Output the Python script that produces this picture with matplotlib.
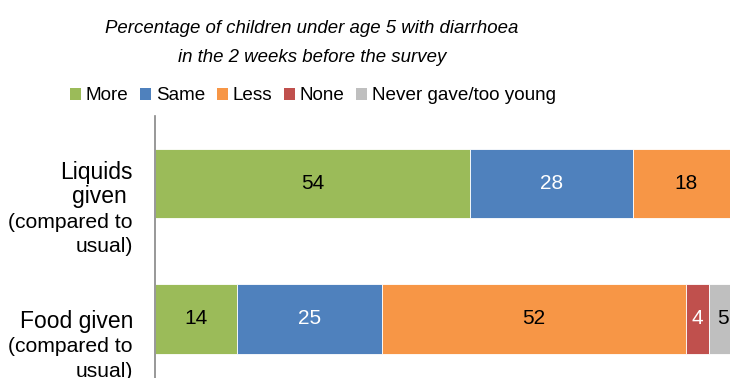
import matplotlib
matplotlib.use("Agg")
import matplotlib.pyplot as plt
from matplotlib.patches import Patch

# label lines: (text, is_main_line)
cat_labels = [
    [("Liquids", True), ("given ", True), ("(compared to", False), ("usual)", False)],
    [("Food given", True), ("(compared to", False), ("usual)", False)],
]
series_names = ["More", "Same", "Less", "None", "Never gave/too young"]
more = [54, 14]
same = [28, 25]
less = [18, 52]
none = [0, 4]
never = [0, 5]
title_lines = ["Percentage of children under age 5 with diarrhoea",
               "in the 2 weeks before the survey"]

colors = ["#9BBB59", "#4F81BD", "#F79646", "#C0504D", "#BFBFBF"]
label_colors = ["black", "white", "black", "white", "black"]

plt.rcParams['font.family'] = ['Liberation Sans', 'DejaVu Sans']

W, H = 730, 378
fig = plt.figure(figsize=(W / 100, H / 100), dpi=100)
ax = fig.add_axes([155 / W, -8.75 / H, (738 - 155) / W, 271 / H])

series = [more, same, less, none, never]
ypos = list(range(len(cat_labels)))
left = [0.0] * len(ypos)
for vals, col, lc in zip(series, colors, label_colors):
    bars = ax.barh(ypos, vals, left=left, height=0.51, color=col,
                   edgecolor="white", linewidth=0.6)
    for b, v, l in zip(bars, vals, left):
        if v > 0:
            ax.text(l + v / 2, b.get_y() + b.get_height() / 2, f"{v}",
                    ha="center", va="center", fontsize=15, color=lc)
    left = [a + b for a, b in zip(left, vals)]

ax.set_xlim(0, 100)
ax.set_ylim(1.5, -0.5)
ax.set_yticks([])
ax.set_xticks([])
for s in ["top", "right", "bottom"]:
    ax.spines[s].set_visible(False)
ax.spines["left"].set_color("#868686")
ax.spines["left"].set_linewidth(1.2)

# category labels, line by line (baseline offsets in pixels from band centre)
line_gap = 24.5
for y, lines in zip(ypos, cat_labels):
    n = len(lines)
    first = -4.5 if n == 4 else 9.0
    for i, (txt, main) in enumerate(lines):
        off_px = first + i * line_gap
        ax.annotate(txt, xy=(0, y), xycoords="data",
                    xytext=(-22 * 0.72, -off_px * 0.72), textcoords="offset points",
                    ha="right", va="baseline",
                    fontsize=16.5 if main else 15.2, annotation_clip=False)

fig.text(312 / W, 1 - 33.3 / H, title_lines[0], ha="center", va="baseline",
         fontsize=13.4, style="italic")
fig.text(312 / W, 1 - 61.5 / H, title_lines[1], ha="center", va="baseline",
         fontsize=13.4, style="italic")

handles = [Patch(facecolor=c, edgecolor="none") for c in colors]
fig.legend(handles, series_names, loc="center", bbox_to_anchor=(313 / W, 1 - 96 / H),
           ncol=5, frameon=False, fontsize=13.6, handlelength=0.6, handleheight=0.6,
           handletextpad=0.25, columnspacing=0.6, borderpad=0)

fig.savefig("out.png", dpi=100)
